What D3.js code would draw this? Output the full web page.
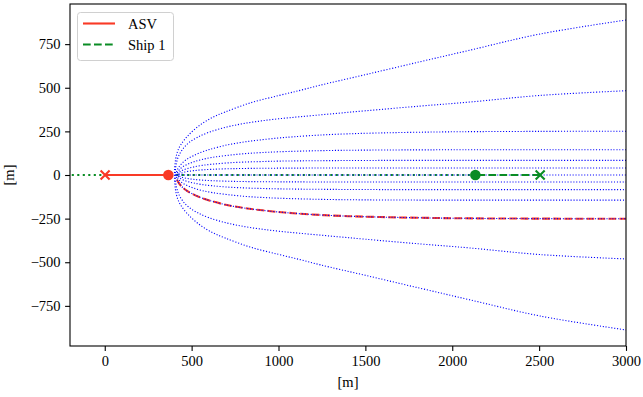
<!DOCTYPE html>
<html><head><meta charset="utf-8">
<script src="https://cdn.jsdelivr.net/npm/d3@7"></script>
<style>body{margin:0;background:#fff}svg{display:block}</style>
</head><body><svg id="c" width="643" height="397"></svg>
<script>
// ---- data ----
const xTicks = [0, 500, 1000, 1500, 2000, 2500, 3000];
const yTicks = [-750, -500, -250, 0, 250, 500, 750];

const asvHistory = [[2, 0], [366, 0]];          // ASV start (x) -> current (dot)
const asvPlan = [[416, -26], [425, -44], [444, -67], [472, -90], [510, -111], [560, -132], [606, -147],
  [703, -172], [800, -189], [894, -201], [1000, -212], [1086, -219], [1239, -229], [1400, -236],
  [1585, -241], [1800, -245], [2045, -248], [2500, -250], [3000, -251]];
const shipHistory = [[2506, 0], [2133, 0]];     // Ship 1 start (x) -> current (dot)
const shipPrediction = [[2133, 0], [-200, 0]];

const fan888 = [[3000, 888], [2505, 808], [2100, 715], [1815, 649], [1500, 575], [1241, 515], [1124, 485],
  [1000, 455], [837, 413], [693, 361], [620, 330], [549, 287], [482, 229], [437, 172], [419, 135],
  [408, 90], [403, 45], [401, 0],
  [403, -45], [408, -90], [419, -135], [437, -172], [482, -229], [549, -287], [620, -330], [693, -361],
  [837, -413], [1000, -455], [1124, -485], [1241, -515], [1500, -575], [1815, -649], [2100, -715],
  [2505, -808], [3000, -888]];
const fan483 = [[3000, 483], [2505, 456], [2100, 418], [1815, 395], [1500, 368], [1300, 350], [1124, 334],
  [1000, 322], [900, 310], [800, 295], [703, 275], [600, 245], [532, 215], [484, 185], [450, 150],
  [426, 110], [414, 75], [408, 40], [406, 0],
  [408, -40], [414, -75], [426, -110], [450, -150], [484, -185], [532, -215], [600, -245], [703, -275],
  [800, -295], [900, -310], [1000, -322], [1124, -334], [1300, -350], [1500, -368], [1815, -395],
  [2100, -418], [2505, -456], [3000, -481]];
const fan252 = [[3000, 251], [2500, 250], [2045, 248], [1800, 245], [1585, 241], [1400, 236], [1239, 229],
  [1086, 219], [1000, 212], [894, 201], [800, 189], [703, 172], [606, 147], [560, 132], [510, 111],
  [472, 90], [444, 67], [425, 44], [416, 26], [411, 0],
  [416, -26], [425, -44], [444, -67], [472, -90], [510, -111], [560, -132], [606, -147], [703, -172],
  [800, -189], [894, -201], [1000, -212], [1086, -219], [1239, -229], [1400, -236], [1585, -241],
  [1800, -245], [2045, -248], [2500, -250], [3000, -251]];
const fan145 = [[3000, 145], [2000, 144.5], [1500, 142.6], [1239, 139.5], [1000, 133], [894, 128], [800, 122],
  [703, 112], [620, 101], [560, 89], [511, 75], [478, 62], [449, 47], [430, 31], [421, 18], [416, 0],
  [421, -18], [430, -31], [449, -47], [478, -62], [511, -75], [560, -89], [620, -101], [703, -112],
  [800, -122], [894, -128], [1000, -133], [1239, -139.5], [1500, -142.6], [2000, -144], [3000, -144]];
const fan84 = [[3000, 84], [1600, 83.6], [1239, 82], [1000, 79.5], [900, 77], [800, 74], [703, 69], [620, 62],
  [560, 55], [512, 46], [484, 39.5], [455, 30], [436, 20], [426, 11.6], [421, 0],
  [426, -11.6], [436, -20], [455, -30], [484, -39.5], [512, -46], [560, -55], [620, -62], [703, -69],
  [800, -74], [900, -77], [1000, -79.5], [1239, -82], [1600, -83.6], [3000, -84]];
const fan40 = [[3000, 40], [1239, 39.8], [1000, 39.2], [800, 37.5], [703, 35.6], [620, 32.7], [560, 29.4],
  [512, 25], [484, 21.3], [460, 16.8], [441, 11.3], [431, 6.6], [426, 0],
  [431, -6.6], [441, -11.3], [460, -16.8], [484, -21.3], [512, -25], [560, -29.4], [620, -32.7],
  [703, -35.6], [800, -37.5], [1000, -39.2], [1239, -39.8], [3000, -40]];
const fanCenter = [[406, 0], [3000, 0]];

// ---- styles ----
const RED = "#f93a26", GREEN = "#0a8c24", BLUE = "#0000ff";
const FONT = "'Liberation Serif', 'Times New Roman', serif";

const svg = d3.select("#c");
const x = d3.scaleLinear().domain([-200, 3000]).range([70, 626]);
const y = d3.scaleLinear().domain([-980, 980]).range([346, 4]);

svg.append("defs").append("clipPath").attr("id", "clip")
  .append("rect").attr("x", 70).attr("y", 4).attr("width", 556).attr("height", 342);

const plot = svg.append("g").attr("clip-path", "url(#clip)");
const line = d3.line().x(d => x(d[0])).y(d => y(d[1]));
const smooth = d3.line().x(d => x(d[0])).y(d => y(d[1])).curve(d3.curveCatmullRom.alpha(0.5));

// green prediction (dotted)
plot.append("path").datum(shipPrediction).attr("d", line)
  .attr("fill", "none").attr("stroke", GREEN).attr("stroke-width", 2.1).attr("stroke-dasharray", "2.1,3.4");

// ASV planned path (red dashed)
plot.append("path").datum(asvPlan).attr("d", smooth)
  .attr("fill", "none").attr("stroke", RED).attr("stroke-width", 2.1).attr("stroke-dasharray", "7.7,3.3");

// fan of candidate trajectories (blue dotted)
[fan888, fan483, fan252, fan145, fan84, fan40, fanCenter].forEach(c => {
  plot.append("path").datum(c).attr("d", smooth)
    .attr("fill", "none").attr("stroke", BLUE).attr("stroke-width", 1.1).attr("stroke-dasharray", "1.1,1.8");
});

// ASV history (solid)
plot.append("path").datum(asvHistory).attr("d", line)
  .attr("fill", "none").attr("stroke", RED).attr("stroke-width", 2.1);
// Ship history (dashed)
plot.append("path").datum(shipHistory).attr("d", line)
  .attr("fill", "none").attr("stroke", GREEN).attr("stroke-width", 2.1).attr("stroke-dasharray", "7.7,3.3");

function cross(p, col) {
  const cx = x(p[0]), cy = y(p[1]), s = 4.5;
  plot.append("path").attr("d", `M${cx - s},${cy - s}L${cx + s},${cy + s}M${cx - s},${cy + s}L${cx + s},${cy - s}`)
    .attr("stroke", col).attr("stroke-width", 2.1).attr("fill", "none");
}
function dot(p, col) {
  plot.append("circle").attr("cx", x(p[0])).attr("cy", y(p[1])).attr("r", 5.3).attr("fill", col);
}
cross(asvHistory[0], RED); dot(asvHistory[1], RED);
cross(shipHistory[0], GREEN); dot(shipHistory[1], GREEN);

// ---- axes ----
const xAxis = svg.append("g").attr("transform", "translate(0,346)")
  .call(d3.axisBottom(x).tickValues(xTicks).tickSize(4.9).tickPadding(4.5).tickFormat(d3.format("d")));
const yAxis = svg.append("g").attr("transform", "translate(70,0)")
  .call(d3.axisLeft(y).tickValues(yTicks).tickSize(4.9).tickPadding(4.5).tickFormat(d3.format("d")));
[xAxis, yAxis].forEach(a => {
  a.attr("font-family", null).style("font-family", FONT);
  a.select(".domain").remove();
  a.selectAll("line").attr("stroke", "#000").attr("stroke-width", 1.1);
  a.selectAll("text").style("font-family", FONT).style("font-size", "14.5px").attr("fill", "#000");
});
svg.append("rect").attr("x", 70).attr("y", 4).attr("width", 556).attr("height", 342)
  .attr("fill", "none").attr("stroke", "#000").attr("stroke-width", 1.1);

svg.append("text").attr("x", 348).attr("y", 387).attr("text-anchor", "middle")
  .style("font-family", FONT).style("font-size", "14.5px").text("[m]");
svg.append("text").attr("transform", "translate(14,175) rotate(-90)").attr("text-anchor", "middle")
  .style("font-family", FONT).style("font-size", "14.5px").text("[m]");

// ---- legend ----
const lg = svg.append("g");
lg.append("rect").attr("x", 77.5).attr("y", 12.5).attr("width", 96).attr("height", 48).attr("rx", 3)
  .attr("fill", "#fff").attr("fill-opacity", 0.8).attr("stroke", "#d0d0d0").attr("stroke-width", 1);
const legendItems = [["ASV", RED, null, 23.5], ["Ship 1", GREEN, "7.7,3.3", 44.5]];
legendItems.forEach(([label, col, dash, ly]) => {
  const l = lg.append("line").attr("x1", 83).attr("x2", 115).attr("y1", ly).attr("y2", ly)
    .attr("stroke", col).attr("stroke-width", 2.1);
  if (dash) l.attr("stroke-dasharray", dash);
  lg.append("text").attr("x", 128).attr("y", ly + 5).style("font-family", FONT).style("font-size", "14.5px")
    .text(label);
});
</script></body></html>
